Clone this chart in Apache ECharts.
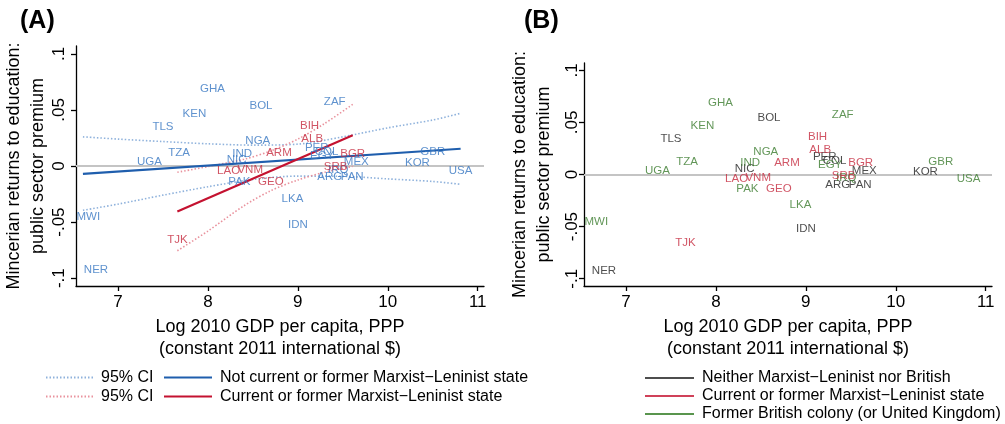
<!DOCTYPE html>
<html>
<head>
<meta charset="utf-8">
<script src="https://cdn.jsdelivr.net/npm/echarts@6/dist/echarts.min.js"></script>
<style>
  html, body { margin: 0; background: #fff; }
  #chart { width: 1005px; height: 424px; }
</style>
</head>
<body>
<div id="chart"></div>
<script>
// country codes, log GDP per capita and public sector premium
const codes   = ["GHA","BOL","ZAF","KEN","TLS","BIH","NGA","ALB","PER","COL","EGY","BGR","TZA","IND","ARM","GBR","NIC","UGA","MEX","KOR","LAO","VNM","SRB","IRQ","USA","ARG","PAN","PAK","GEO","LKA","IDN","MWI","TJK","NER"];
const logGdp  = [8.05, 8.59, 9.41, 7.85, 7.50, 9.13, 8.555, 9.16, 9.21, 9.32, 9.27, 9.61, 7.68, 8.38, 8.79, 10.50, 8.32, 7.35, 9.65, 10.33, 8.23, 8.47, 9.42, 9.45, 10.81, 9.355, 9.605, 8.35, 8.70, 8.94, 9.00, 6.67, 7.66, 6.755];
const premium = [0.0687, 0.054, 0.057, 0.0463, 0.0345, 0.0357, 0.022, 0.024, 0.0165, 0.013, 0.009, 0.011, 0.012, 0.011, 0.0114, 0.0122, 0.0055, 0.0033, 0.0035, 0.003, -0.004, -0.003, -0.001, -0.003, -0.0045, -0.010, -0.010, -0.014, -0.0140, -0.029, -0.0526, -0.0455, -0.0654, -0.0925];
// N = neither, M = Marxist-Leninist, B = former British colony
const group   = ["B","N","B","B","N","M","B","M","N","N","B","M","B","B","M","B","N","B","N","N","M","M","M","B","B","N","N","B","M","B","N","B","M","N"];

// fitted lines and 95% CI bands (panel A)
const blueFitX = [6.61, 10.81];
const blueFitY = [-0.0071, 0.0154];
const blueCiX = [6.61, 7.0, 7.5, 8.0, 8.5, 9.0, 9.5, 10.0, 10.5, 10.81];
const blueCiUpper = [0.026, 0.024, 0.0218, 0.0198, 0.0186, 0.0195, 0.026, 0.034, 0.041, 0.047];
const blueCiLower = [-0.0395, -0.034, -0.026, -0.0185, -0.012, -0.009, -0.0092, -0.0115, -0.0138, -0.0163];
const redFitX = [7.66, 9.61];
const redFitY = [-0.0405, 0.0274];
const redCiX = [7.66, 8.0, 8.4, 8.7, 9.0, 9.3, 9.61];
const redCiUpper = [-0.0056, -0.0005, 0.006, 0.0135, 0.024, 0.038, 0.055];
const redCiLower = [-0.0756, -0.058, -0.0355, -0.022, -0.0125, -0.0055, -0.0003];

const xTicks = [7, 8, 9, 10, 11];
const yTicks = [-0.1, -0.05, 0, 0.05, 0.1];

const FONT = "Liberation Sans, Arial, sans-serif";
const C = {
  blueLab: "#3777c2", blueLine: "#1f5ead", blueCi: "#8fb2dc",
  redLab: "#c52a3f", redLine: "#c41230", redCi: "#e9929d",
  green: "#3b7c2e", black: "#222222", zero: "#c4c4c4"
};

function zip(xs, ys) { return xs.map((x, i) => [x, ys[i]]); }
function pts(filter) {
  const out = [];
  codes.forEach((c, i) => { if (filter(group[i])) out.push({ name: c, value: [logGdp[i], premium[i]] }); });
  return out;
}
function yFmt(v) {
  if (v === 0) return "0";
  return (v < 0 ? "-" : "") + String(Math.abs(v)).replace(/^0/, "");
}

function xAxis(gi, nameGap) {
  return {
    type: "value", gridIndex: gi, min: 6.533, max: 11.07,
    axisLine: { show: true, onZero: false, lineStyle: { color: "#000", width: 1.3 } },
    axisTick: { show: true, length: 5, customValues: xTicks, lineStyle: { color: "#000", width: 1.3 } },
    axisLabel: { customValues: xTicks, fontSize: 17, color: "#000", margin: 8, fontFamily: FONT },
    splitLine: { show: false },
    name: "Log 2010 GDP per capita, PPP\n(constant 2011 international $)",
    nameLocation: "middle", nameGap: nameGap,
    nameTextStyle: { fontSize: 18, lineHeight: 22, color: "#000", fontFamily: FONT }
  };
}
function yAxis(gi, nameGap, margin) {
  return {
    type: "value", gridIndex: gi, min: -0.107, max: 0.107,
    axisLine: { show: true, onZero: false, lineStyle: { color: "#000", width: 1.3 } },
    axisTick: { show: true, length: 5, customValues: yTicks, lineStyle: { color: "#000", width: 1.3 } },
    axisLabel: { customValues: yTicks, rotate: 90, formatter: yFmt, fontSize: 17, color: "#000", margin: margin, fontFamily: FONT },
    splitLine: { show: false },
    name: "Mincerian returns to education:\npublic sector premium",
    nameLocation: "middle", nameGap: nameGap,
    nameTextStyle: { fontSize: 18, lineHeight: 24, color: "#000", fontFamily: FONT }
  };
}
function labels(name, gi, data, color, withZero) {
  const s = {
    type: "scatter", name: name, xAxisIndex: gi, yAxisIndex: gi,
    data: data, symbolSize: 1, itemStyle: { color: "rgba(0,0,0,0)" },
    label: { show: true, position: "inside", formatter: "{b}", color: color, fontSize: 11.5, fontFamily: FONT },
    emphasis: { disabled: true }, z: 3
  };
  if (withZero) {
    s.markLine = {
      silent: true, symbol: "none", label: { show: false },
      lineStyle: { color: C.zero, width: 2.2, type: "solid" },
      data: [{ yAxis: 0 }], z: 1
    };
  }
  return s;
}
function line(name, data, color, width, dotted) {
  return {
    type: "line", name: name, xAxisIndex: 0, yAxisIndex: 0, data: data,
    symbol: "none", smooth: dotted ? 0.3 : false,
    lineStyle: { color: color, width: width, type: dotted ? [1.5, 2] : "solid" },
    itemStyle: { color: color }, emphasis: { disabled: true }, z: 2
  };
}

const legendNames = {
  ciBlue: "95% CI", ciRed: "95% CI",
  fitBlue: "Not current or former Marxist\u2212Leninist state",
  fitRed: "Current or former Marxist\u2212Leninist state",
  grpN: "Neither Marxist\u2212Leninist nor British",
  grpM: "Current or former Marxist\u2212Leninist state",
  grpB: "Former British colony (or United Kingdom)"
};
const legendText = { fontSize: 16, lineHeight: 19, color: "#000", fontFamily: FONT, padding: [0, 0, 0, 3] };

const chart = echarts.init(document.getElementById("chart"), null, { renderer: "canvas" });
chart.setOption({
  animation: false,
  backgroundColor: "#fff",
  title: [
    { text: "(A)", left: 20, top: 9, padding: 0, textStyle: { fontSize: 25, fontWeight: "bold", color: "#000", fontFamily: FONT } },
    { text: "(B)", left: 524, top: 9, padding: 0, textStyle: { fontSize: 25, fontWeight: "bold", color: "#000", fontFamily: FONT } }
  ],
  grid: [
    { left: 76, top: 46, width: 408, height: 240 },
    { left: 584, top: 63, width: 408, height: 223 }
  ],
  xAxis: [xAxis(0, 27), xAxis(1, 30)],
  yAxis: [yAxis(0, 19, 8), yAxis(1, 28, 3)],
  legend: [
    { left: 45, top: 368, orient: "vertical", itemWidth: 47, itemHeight: 2, itemGap: 0, padding: 0,
      itemStyle: { opacity: 0 },
      data: ["ciBlue", "ciRed"], formatter: n => legendNames[n], textStyle: legendText, selectedMode: false },
    { left: 163, top: 368, orient: "vertical", itemWidth: 48, itemHeight: 2, itemGap: 0, padding: 0,
      itemStyle: { opacity: 0 },
      data: ["fitBlue", "fitRed"], formatter: n => legendNames[n], textStyle: legendText, selectedMode: false },
    { left: 645, top: 369, orient: "vertical", itemWidth: 49, itemHeight: 2, itemGap: 0, padding: 0,
      data: [
        { name: "grpN", icon: "rect", itemStyle: { color: C.black } },
        { name: "grpM", icon: "rect", itemStyle: { color: C.redLine } },
        { name: "grpB", icon: "rect", itemStyle: { color: "#2f7a22" } }
      ],
      formatter: n => legendNames[n], textStyle: Object.assign({}, legendText, { lineHeight: 18 }), selectedMode: false }
  ],
  series: [
    labels("notML", 0, pts(g => g !== "M"), C.blueLab, true),
    labels("ML", 0, pts(g => g === "M"), C.redLab, false),
    line("ciBlue", zip(blueCiX, blueCiUpper), C.blueCi, 1.6, true),
    line("ciBlue", zip(blueCiX, blueCiLower), C.blueCi, 1.6, true),
    line("ciRed", zip(redCiX, redCiUpper), C.redCi, 1.6, true),
    line("ciRed", zip(redCiX, redCiLower), C.redCi, 1.6, true),
    line("fitBlue", zip(blueFitX, blueFitY), C.blueLine, 2.2, false),
    line("fitRed", zip(redFitX, redFitY), C.redLine, 2.2, false),
    labels("grpN", 1, pts(g => g === "N"), C.black, true),
    labels("grpB", 1, pts(g => g === "B"), C.green, false),
    labels("grpM", 1, pts(g => g === "M"), C.redLab, false)
  ]
});
</script>
</body>
</html>
